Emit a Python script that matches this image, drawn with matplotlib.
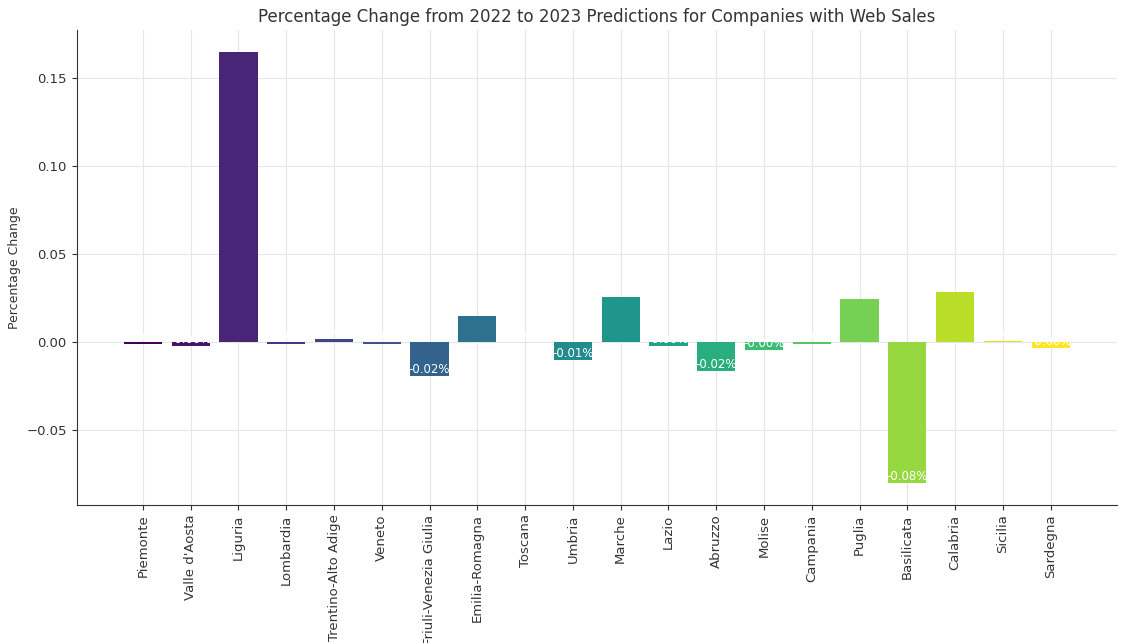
import numpy as np
import matplotlib; matplotlib.use("Agg"); import matplotlib.pyplot as plt

REGIONS = ["Piemonte", "Valle d'Aosta", "Liguria", "Lombardia", "Trentino-Alto Adige",
           "Veneto", "Friuli-Venezia Giulia", "Emilia-Romagna", "Toscana", "Umbria",
           "Marche", "Lazio", "Abruzzo", "Molise", "Campania", "Puglia", "Basilicata",
           "Calabria", "Sicilia", "Sardegna"]
PCT_CHANGE = [-0.001, -0.002, 0.165, -0.001, 0.002, -0.001, -0.019, 0.015, 0.0, -0.010,
              0.026, -0.002, -0.0165, -0.0045, -0.001, 0.0245, -0.080, 0.0285, 0.0005, -0.003]

TXT = "#333333"
cols = plt.get_cmap("viridis")(np.linspace(0, 1, len(REGIONS)))

fig = plt.figure(figsize=(11.25, 6.43), dpi=100)
ax = fig.add_axes([0.068, 0.215, 0.925, 0.738])
x = np.arange(len(REGIONS))
ax.bar(x, PCT_CHANGE, color=cols, width=0.8, zorder=2)
for xi, v in zip(x, PCT_CHANGE):
    ax.text(xi, v, f"{v:.2f}%", ha="center", va="bottom", color="white", fontsize=8.5, zorder=3)

ax.set_xticks(x); ax.set_xticklabels(REGIONS, rotation=90, fontsize=9.5)
ax.tick_params(axis="y", labelsize=9.5)
ax.tick_params(colors=TXT, labelcolor=TXT)
ax.set_ylabel("Percentage Change", fontsize=9, color=TXT)
ax.set_title("Percentage Change from 2022 to 2023 Predictions for Companies with Web Sales",
             fontsize=12, color=TXT)
ax.grid(color="#e6e6e6", lw=0.8, zorder=0)
ax.set_axisbelow(True)
for s in ["top", "right"]: ax.spines[s].set_visible(False)
for s in ["left", "bottom"]: ax.spines[s].set_color(TXT)
fig.savefig("out.png", dpi=100)
